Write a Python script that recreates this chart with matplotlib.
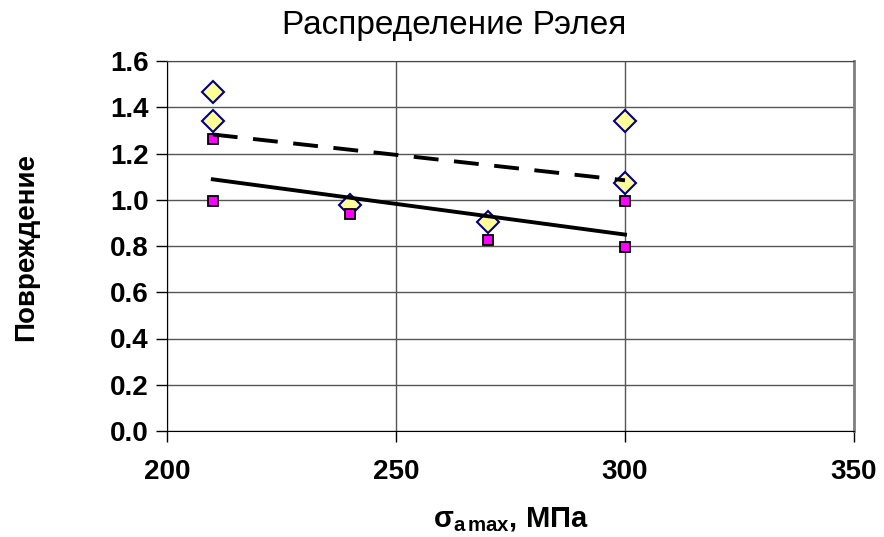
import numpy as np
import matplotlib
matplotlib.use("Agg")
import matplotlib.pyplot as plt

plt.rcParams['font.family'] = ['Liberation Sans', 'DejaVu Sans']
plt.rcParams['mathtext.fontset'] = 'custom'
plt.rcParams['mathtext.rm'] = 'Liberation Sans'
plt.rcParams['mathtext.bf'] = 'Liberation Sans:bold'
plt.rcParams['mathtext.it'] = 'Liberation Sans:italic'

# данные
sigma = [210, 210, 240, 270, 300, 300]
damage_a = [1.466, 1.340, 0.977, 0.904, 1.340, 1.072]   # ромбы
damage_b = [1.263, 0.995, 0.938, 0.826, 0.995, 0.796]   # квадраты
x_ticks = [200, 250, 300, 350]
y_ticks = [0.0, 0.2, 0.4, 0.6, 0.8, 1.0, 1.2, 1.4, 1.6]

fig = plt.figure(figsize=(8.84, 5.37), dpi=100)
ax = fig.add_axes([167 / 884, 1 - 431 / 537, (854 - 167) / 884, (431 - 61) / 537])

ax.plot(sigma, damage_a, linestyle='none', marker='D', markersize=11,
        markerfacecolor='#FFFF99', markeredgecolor='#000080', markeredgewidth=1.5, zorder=3)
ax.plot(sigma, damage_b, linestyle='none', marker='s', markersize=7,
        markerfacecolor='#FF00FF', markeredgecolor='black', markeredgewidth=1.3, zorder=3)

# линейные тренды
xs = np.array([min(sigma), max(sigma)])
ka, ba = np.polyfit(sigma, damage_a, 1)
kb, bb = np.polyfit(sigma, damage_b, 1)
ax.plot(xs, ka * xs + ba, color='black', lw=2.8, dashes=(6.4, 4), zorder=4)
ax.plot(xs, kb * xs + bb, color='black', lw=2.8, zorder=4)

ax.set_xlim(200, 350)
ax.set_ylim(0, 1.6)
ax.set_xticks(x_ticks)
ax.set_yticks(y_ticks)
ax.set_yticklabels([f"{v:.1f}" for v in y_ticks])
ax.tick_params(axis='both', labelsize=20, length=8, width=1, direction='out')
ax.tick_params(axis='x', pad=12)
ax.tick_params(axis='y', pad=5)
for lab in ax.get_xticklabels() + ax.get_yticklabels():
    lab.set_fontweight('bold')

ax.grid(True, color='#555555', lw=1)
ax.set_axisbelow(True)
ax.spines['left'].set_color('black')
ax.spines['bottom'].set_color('black')
ax.spines['top'].set_color('#444444')
ax.spines['right'].set_color('#808080')
ax.spines['right'].set_linewidth(2)

fig.text(0.514, 0.953, "Распределение Рэлея", ha='center', va='center', fontsize=24)
fig.text(0.030, 0.54, "Повреждение", rotation=90, ha='center', va='center',
         fontsize=20, fontweight='bold')
fig.text(0.578, 0.033, r"$\mathbf{σ_{a\,max}}$, МПа", ha='center', va='center',
         fontsize=21, fontweight='bold')

fig.savefig("out.png", dpi=100)
